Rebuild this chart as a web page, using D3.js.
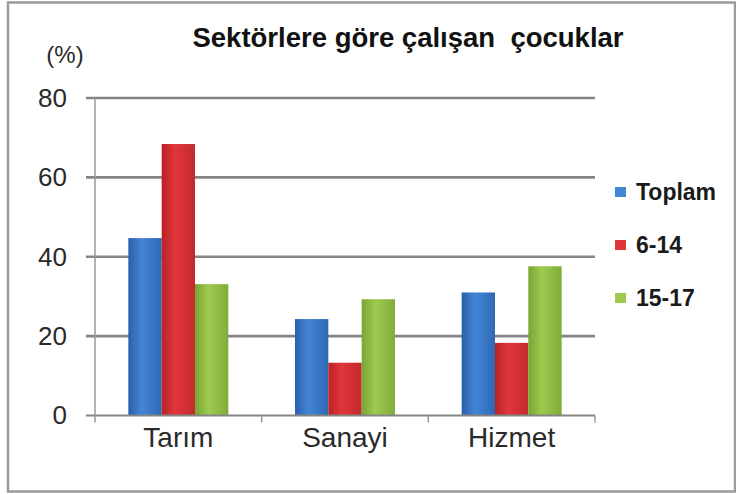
<!DOCTYPE html>
<html><head><meta charset="utf-8">
<script src="https://cdn.jsdelivr.net/npm/d3@7"></script>
<style>
html,body{margin:0;padding:0;background:#fff;}
svg{display:block;font-family:"Liberation Sans",Arial,sans-serif;}
</style></head>
<body>
<svg id="chart" width="736" height="494"></svg>
<script>
const categories = ["Tarım", "Sanayi", "Hizmet"];
const seriesNames = ["Toplam", "6-14", "15-17"];
const toplam = [44.7, 24.3, 31.0];
const age6to14 = [68.4, 13.3, 18.3];
const age15to17 = [33.1, 29.3, 37.6];
const yTicks = [0, 20, 40, 60, 80];
const title = "Sektörlere göre çalışan  çocuklar";
const unitLabel = "(%)";

(function () {
const seriesValues = [toplam, age6to14, age15to17];
const colors = [
  ["#2a5fa8", "#4386d6", "#2f68b5"],
  ["#b82226", "#e0363a", "#c42a2d"],
  ["#78a534", "#9fca4e", "#80ad3a"]
];

const svg = d3.select("#chart");
const defs = svg.append("defs");
colors.forEach((c, i) => {
  const g = defs.append("linearGradient").attr("id", "g" + i)
    .attr("x1", "0%").attr("x2", "100%").attr("y1", "0%").attr("y2", "0%");
  g.append("stop").attr("offset", "0%").attr("stop-color", c[0]);
  g.append("stop").attr("offset", "40%").attr("stop-color", c[1]);
  g.append("stop").attr("offset", "100%").attr("stop-color", c[2]);
});

// frame
svg.append("rect").attr("x", 8).attr("y", 2.5).attr("width", 727).attr("height", 489)
  .attr("fill", "none").attr("stroke", "#9a9a9a").attr("stroke-width", 2.5);

const pLeft = 95, pRight = 595, pTop = 98, pBottom = 415.5;
const x = d3.scaleBand().domain(categories).range([pLeft, pRight]).paddingInner(0).paddingOuter(0);
const xs = d3.scaleBand().domain(seriesNames).range([x.bandwidth() * 0.2, x.bandwidth() * 0.8]).padding(0);
const y = d3.scaleLinear().domain([0, 80]).range([pBottom, pTop]);

// gridlines
svg.append("g").selectAll("line").data(yTicks.filter(d => d > 0)).join("line")
  .attr("x1", pLeft - 9).attr("x2", pRight).attr("y1", d => y(d)).attr("y2", d => y(d))
  .attr("stroke", "#858585").attr("stroke-width", 2.6);

// y axis line
svg.append("line").attr("x1", pLeft).attr("x2", pLeft).attr("y1", pTop).attr("y2", pBottom)
  .attr("stroke", "#9a9a9a").attr("stroke-width", 1.5);

// bars
const groups = svg.append("g").selectAll("g").data(categories).join("g")
  .attr("transform", d => `translate(${x(d)},0)`);
groups.selectAll("rect").data((c, ci) => seriesNames.map((s, si) => ({s, si, v: seriesValues[si][ci]})))
  .join("rect")
  .attr("x", d => xs(d.s)).attr("width", xs.bandwidth())
  .attr("y", d => y(d.v)).attr("height", d => y(0) - y(d.v))
  .attr("fill", d => `url(#g${d.si})`);

// x axis
const xAxis = d3.axisBottom(x).tickSize(0).tickPadding(12);
const xg = svg.append("g").attr("transform", `translate(0,${pBottom})`).call(xAxis);
xg.select(".domain").remove();
xg.selectAll("text").attr("font-size", 28).attr("fill", "#2a2a2a").attr("dy", "0.71em")
  .attr("font-family", "'Liberation Sans',Arial,sans-serif");
svg.append("line").attr("x1", pLeft - 9).attr("x2", pRight).attr("y1", pBottom).attr("y2", pBottom)
  .attr("stroke", "#858585").attr("stroke-width", 2.2);
const bounds = categories.map(c => x(c)).concat([pRight]);
svg.append("g").selectAll("line").data(bounds).join("line")
  .attr("x1", d => d).attr("x2", d => d).attr("y1", pBottom).attr("y2", pBottom + 7)
  .attr("stroke", "#9a9a9a").attr("stroke-width", 1.5);

// y axis labels
const yAxis = d3.axisLeft(y).tickValues(yTicks).tickSize(0).tickPadding(0);
const yg = svg.append("g").attr("transform", `translate(67,0)`).call(yAxis);
yg.select(".domain").remove();
yg.selectAll("text").attr("font-size", 26).attr("fill", "#2a2a2a")
  .attr("font-family", "'Liberation Sans',Arial,sans-serif");

// unit label
svg.append("text").attr("x", 65).attr("y", 63).attr("text-anchor", "middle")
  .attr("font-size", 24).attr("fill", "#2a2a2a").text(unitLabel);

// title
svg.append("text").attr("x", 408).attr("y", 47).attr("text-anchor", "middle")
  .attr("font-size", 27.5).attr("font-weight", "bold").attr("fill", "#111")
  .attr("xml:space", "preserve").style("white-space", "pre").text(title);

// legend
const legend = svg.append("g").selectAll("g").data(seriesNames).join("g")
  .attr("transform", (d, i) => `translate(615,${192 + i * 53})`);
legend.append("rect").attr("x", 0).attr("y", -5).attr("width", 11).attr("height", 10)
  .attr("fill", (d, i) => colors[i][1]);
legend.append("text").attr("x", 21).attr("y", 0).attr("dy", "0.36em")
  .attr("font-size", 23).attr("font-weight", "bold").attr("fill", "#1a1a1a").text(d => d);
})();
</script>
</body></html>
